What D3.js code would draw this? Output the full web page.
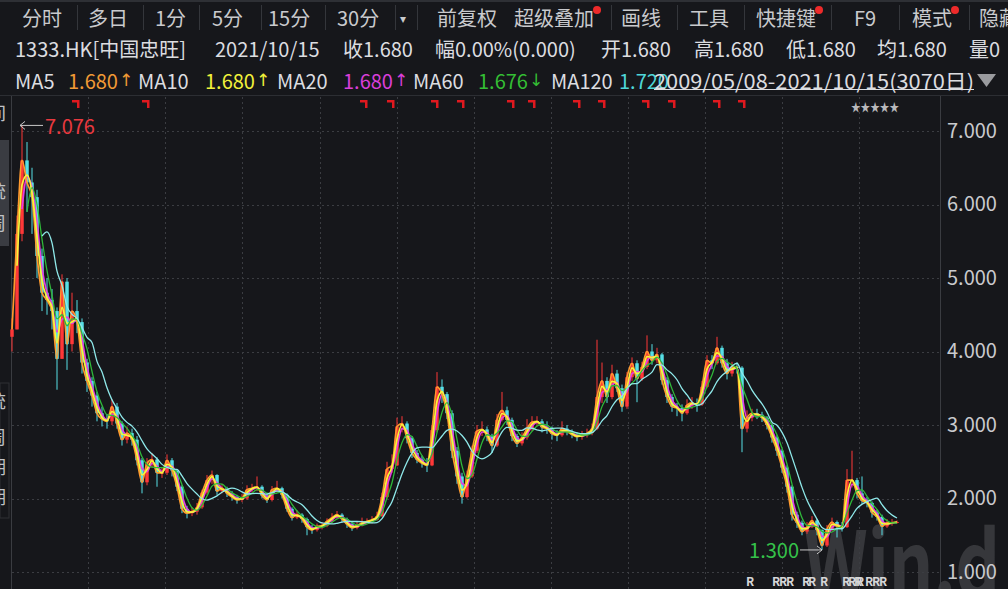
<!DOCTYPE html>
<html><head><meta charset="utf-8">
<script src="https://cdn.jsdelivr.net/npm/d3@7"></script>
<style>
html,body{margin:0;padding:0;background:#16171b;overflow:hidden}
svg{display:block}
text{font-family:"Noto Sans CJK SC","Noto Sans",sans-serif}
</style></head><body>
<svg id="c" width="1008" height="589"></svg>
<script>
// ---- data (sampled every ~17 trading days, 2009/05/08 - 2021/10/15) ----
const closes = [4.3,5.6,6.6,6.3,6.1,5.3,4.8,4.7,4.55,3.9,
4.95,4.1,4.55,4.4,3.85,3.6,3.4,3.16,3.08,3.05,
3.25,3.02,2.8,2.89,2.8,2.52,2.22,2.48,2.53,2.35,
2.35,2.52,2.38,2.16,1.86,1.8,1.82,1.88,2.08,2.25,
2.32,2.1,2.14,2.07,2.02,1.98,2.0,2.12,2.14,2.16,
2.04,1.98,2.12,2.14,2.05,1.86,1.74,1.78,1.72,1.61,
1.57,1.62,1.63,1.69,1.74,1.78,1.72,1.65,1.6,1.63,
1.67,1.69,1.71,1.76,2.02,2.4,2.45,2.98,3.02,2.82,
2.62,2.53,2.48,2.45,2.93,3.52,3.42,3.16,2.65,2.3,
2.02,2.3,2.65,2.92,2.94,2.85,2.72,3.07,3.2,3.07,
2.85,2.75,2.83,2.95,3.04,3.05,2.97,2.95,2.88,2.86,
2.95,2.91,2.87,2.84,2.86,2.89,2.95,3.38,3.6,3.38,
3.7,3.5,3.25,3.65,3.84,3.63,3.79,4.0,3.88,3.96,
3.61,3.38,3.25,3.23,3.16,3.27,3.3,3.28,3.52,3.88,
3.84,4.05,3.84,3.7,3.79,3.78,2.95,3.1,3.16,3.14,
3.1,3.0,2.83,2.65,2.42,2.16,1.78,1.67,1.55,1.61,
1.7,1.57,1.36,1.58,1.68,1.62,1.61,2.25,2.25,2.07,
1.97,1.94,1.81,1.75,1.62,1.67,1.67,1.68];
const highs = [4.45,5.85,7.076,6.85,6.5,6.2,5.4,5.0,4.85,4.6,
5.05,5.0,4.8,4.7,4.45,3.9,3.65,3.45,3.25,3.15,
3.35,3.3,3.05,2.98,2.95,2.85,2.55,2.55,2.62,2.56,
2.42,2.6,2.55,2.4,2.18,1.9,1.88,1.94,2.12,2.32,
2.38,2.33,2.2,2.16,2.1,2.05,2.06,2.18,2.2,2.3,
2.18,2.06,2.17,2.24,2.16,2.07,1.88,1.84,1.8,1.74,
1.64,1.66,1.68,1.73,1.8,1.83,1.8,1.74,1.67,1.68,
1.74,1.73,1.76,1.82,2.08,2.5,2.6,3.1,3.12,3.05,
2.85,2.66,2.58,2.55,3.0,3.72,3.62,3.45,3.2,2.7,
2.35,2.38,2.72,3.0,3.05,2.98,2.88,3.15,3.45,3.25,
3.1,2.88,2.9,3.08,3.12,3.12,3.08,3.05,2.98,2.93,
3.05,3.0,2.94,2.9,2.92,2.95,3.02,4.16,3.85,3.65,
3.82,3.75,3.55,3.72,3.92,3.88,3.86,4.22,4.1,4.05,
3.98,3.65,3.42,3.3,3.28,3.35,3.38,3.36,3.6,3.95,
3.95,4.2,4.08,3.9,3.86,3.85,3.8,3.2,3.22,3.22,
3.18,3.12,3.02,2.86,2.67,2.45,2.18,1.82,1.7,1.68,
1.76,1.72,1.58,1.64,1.74,1.7,1.68,2.4,2.65,2.28,
2.3,2.02,1.96,1.85,1.78,1.72,1.72,1.7];
const lows = [4.0,4.3,5.5,5.9,5.6,5.0,4.55,4.5,4.3,3.48,
3.9,3.75,4.0,4.25,3.7,3.45,3.25,3.05,2.98,2.95,
3.0,2.95,2.72,2.75,2.72,2.45,2.07,2.18,2.42,2.16,
2.28,2.32,2.3,2.1,1.8,1.73,1.76,1.78,1.86,2.05,
2.2,2.05,2.07,2.02,1.97,1.93,1.95,1.98,2.08,2.1,
2.0,1.94,1.96,2.08,2.0,1.82,1.7,1.72,1.67,1.5,
1.52,1.55,1.58,1.61,1.67,1.72,1.68,1.6,1.56,1.58,
1.62,1.65,1.66,1.7,1.75,2.0,2.35,2.44,2.9,2.75,
2.55,2.48,2.42,2.36,2.44,2.9,3.3,3.08,2.55,2.2,
1.93,2.0,2.28,2.62,2.85,2.78,2.62,2.7,3.05,3.0,
2.78,2.7,2.72,2.8,2.92,2.98,2.9,2.88,2.8,2.78,
2.84,2.86,2.82,2.78,2.8,2.83,2.86,2.93,3.3,3.3,
3.35,3.45,3.18,3.22,3.6,3.31,3.6,3.76,3.82,3.84,
3.55,3.3,3.18,3.12,3.05,3.14,3.22,3.18,3.26,3.5,
3.76,3.82,3.78,3.62,3.66,3.7,2.63,2.9,3.05,3.08,
3.04,2.94,2.76,2.58,2.35,2.08,1.7,1.6,1.5,1.52,
1.6,1.5,1.3,1.34,1.56,1.47,1.55,1.6,2.15,2.0,
1.92,1.88,1.74,1.7,1.5,1.6,1.63,1.66];
const yTicks = [1,2,3,4,5,6,7];
const gridIdx = [15.2,30.6,46.0,61.5,76.9,92.3,107.7,123.1,138.6,154.0,169.4];
const flagIdx = [13,27,70.6,76,84.8,90,100,104.2,113.2,118.2,127,132.2,141.2,146.2];
const rIdx = [147.6,152.8,154.2,155.6,158.8,160.0,162.4,166.8,168.0,169.2,169.6,171.4,172.8,174.2];
const maNames = ["MA5","MA10","MA20","MA60","MA120"];
const maLastVal = ["1.680","1.680","1.680","1.676","1.720"];
const maLastDir = ["↑","↑","↑","↓",""];
const maWin = [1,1.5,2.2,3.5,7];
const toolbar = ["分时","多日","1分","5分","15分","30分","▾","前复权","超级叠加","画线","工具","快捷键","F9","模式","隐藏"];
const toolbarX = [22,88,155,212,268,337,400,437,514,621,689,756,854,912,979];
const toolbarDot = [false,false,false,false,false,false,false,false,true,false,false,true,false,true,false];
const toolbarSep = [77,143,199,261,325,395,417,611,677,744,831,899,969];
const infoLabels = ["1333.HK[中国忠旺]","2021/10/15","收1.680","幅0.00%(0.000)","开1.680","高1.680","低1.680","均1.680","量0"];
const infoX = [15,215,343,435,601,694,786,877,969];
const rangeLabel = "2009/05/08-2021/10/15(3070日)";

// ---- drawing ----
const svg = d3.select("#c");
const W = 1008, H = 589;
const bg = "#16171b";
svg.append("rect").attr("width",W).attr("height",H).attr("fill",bg);

const x = d3.scaleLinear().domain([0, closes.length-1]).range([12, 897]);
const y = d3.scaleLinear().domain([1,7]).range([572,131]);

// watermark
svg.append("text").attr("x",804).attr("y",597).text("Win.d")
  .attr("font-family","DejaVu Sans").attr("font-weight","bold").attr("font-size",90)
  .attr("fill","#ffffff").attr("fill-opacity",0.14).attr("textLength",196).attr("lengthAdjust","spacingAndGlyphs");

// grid
const grid = svg.append("g").attr("stroke","#3b3d42").attr("stroke-dasharray","2,3").attr("stroke-width",1);
yTicks.forEach(t=>grid.append("line").attr("x1",12).attr("x2",940).attr("y1",Math.round(y(t))+0.5).attr("y2",Math.round(y(t))+0.5));
gridIdx.forEach(g=>grid.append("line").attr("x1",Math.round(x(g))+0.5).attr("x2",Math.round(x(g))+0.5).attr("y1",97).attr("y2",H));

// frame lines
svg.append("line").attr("x1",940.5).attr("x2",940.5).attr("y1",95).attr("y2",H).attr("stroke","#3a3c41");
svg.append("line").attr("x1",11.5).attr("x2",11.5).attr("y1",95).attr("y2",H).attr("stroke","#3a3c41");
svg.append("line").attr("x1",0).attr("x2",W).attr("y1",95.5).attr("y2",95.5).attr("stroke","#2c2e33");
svg.append("rect").attr("x",0).attr("y",0).attr("width",W).attr("height",2).attr("fill","#2e3035");

// left side tabs (cut off)
svg.append("rect").attr("x",0).attr("y",140).attr("width",9).attr("height",106).attr("fill","#3a3c42");
svg.append("rect").attr("x",0).attr("y",383).attr("width",9).attr("height",135).attr("fill","none").attr("stroke","#2e3035");
const leftChars = [["间",112],["统",190],["周",222],["统",400],["周",436],["期",466],["期",496],["<",545],["<",575]];
leftChars.forEach(([c,yy])=>svg.append("text").attr("x",-12).attr("y",yy).attr("dominant-baseline","central")
  .attr("font-size",18).attr("fill","#bfc1c5").text(c));

// candles
const candles = svg.append("g");
closes.forEach((c,i)=>{
  const o = i===0 ? c - 0.1 : closes[i-1];
  const up = c >= o;
  const col = up ? "#ff3838" : "#57e0e6";
  const cx = x(i);
  candles.append("line").attr("x1",cx).attr("x2",cx).attr("y1",y(highs[i])).attr("y2",y(lows[i]))
    .attr("stroke",col).attr("stroke-width",1);
  candles.append("rect").attr("x",cx-1.75).attr("width",3.5)
    .attr("y",y(Math.max(o,c))).attr("height",Math.max(1,Math.abs(y(o)-y(c)))).attr("fill",col);
});

// moving averages
function ma(vals, w){
  const full = Math.floor(w), frac = w - full;
  return vals.map((v,i)=>{
    if (i < Math.ceil(w)-1) return null;
    let s=0, wt=0;
    for (let k=0;k<full;k++){ s+=vals[i-k]; wt+=1; }
    if (frac>0 && i-full>=0){ s+=vals[i-full]*frac; wt+=frac; }
    return s/wt;
  });
}
const maCols = ["#ff9a2e","#f6f63c","#e23ee2","#2fb83a","#8fe9ea"];
const maDraw = [2,0,1,3,4];
const line = d3.line().defined(d=>d[1]!==null).x(d=>x(d[0])).y(d=>y(d[1])).curve(d3.curveMonotoneX);
maDraw.forEach(k=>{
  const vals = ma(closes, maWin[k]).map((v,i)=>[i,v]);
  svg.append("path").attr("d",line(vals)).attr("fill","none").attr("stroke",maCols[k])
    .attr("stroke-width", k<3 ? 1.7 : 1.3);
});

// max / min annotations
const iMax = d3.maxIndex(highs), iMin = d3.minIndex(lows);
const ym = y(highs[iMax]);
const tipX = x(iMax)-2;
const ann = svg.append("g").attr("stroke","#c8c8c8").attr("stroke-width",1).attr("fill","none");
ann.append("path").attr("d",`M${tipX+23},${ym}H${tipX}M${tipX+5},${ym-4}L${tipX},${ym}L${tipX+5},${ym+4}`);
svg.append("text").attr("x",tipX+25).attr("y",ym).attr("dominant-baseline","central")
  .attr("font-size",20).attr("fill","#e8393f").text(d3.format(".3f")(highs[iMax]));
const yl = y(lows[iMin]);
const tip2 = x(iMin);
ann.append("path").attr("d",`M${tip2-22},${yl}H${tip2}M${tip2-5},${yl-4}L${tip2},${yl}L${tip2-5},${yl+4}`);
svg.append("text").attr("x",tip2-23).attr("y",yl).attr("text-anchor","end").attr("dominant-baseline","central")
  .attr("font-size",20).attr("fill","#35c24a").text(d3.format(".3f")(lows[iMin]));

// y axis
const ax = svg.append("g").attr("transform","translate(944,0)")
  .call(d3.axisRight(y).tickValues(yTicks).tickFormat(d3.format(".3f")).tickSize(0).tickPadding(3));
ax.select(".domain").remove();
ax.selectAll("text").attr("font-size",20).attr("fill","#c9cacd").attr("font-family","\"Noto Sans CJK SC\",sans-serif");

// flags
const fl = svg.append("g").attr("fill","#e0191f");
flagIdx.forEach(f=>{
  const fx = Math.round(x(f));
  fl.append("rect").attr("x",fx-5).attr("y",100).attr("width",7).attr("height",2.5);
  fl.append("rect").attr("x",fx).attr("y",100).attr("width",2.5).attr("height",8);
});
svg.append("text").attr("x",851).attr("y",106).attr("dominant-baseline","central").attr("font-size",12)
  .attr("font-family","DejaVu Sans").attr("fill","#b8b8bb").attr("textLength",48).attr("lengthAdjust","spacingAndGlyphs").text("★★★★★");

// R markers
rIdx.forEach(r=>svg.append("text").attr("x",x(r)).attr("y",580).attr("text-anchor","middle").attr("dominant-baseline","central")
  .attr("font-size",12).attr("font-weight","bold").attr("fill","#d6d6d8").attr("font-family","DejaVu Sans Condensed, sans-serif").text("R"));

// toolbar
toolbar.forEach((t,i)=>{
  svg.append("text").attr("x",toolbarX[i]).attr("y",17).attr("dominant-baseline","central")
    .attr("font-size", t==="▾"?12:20).attr("fill","#c9cacd").text(t);
});
toolbarSep.forEach(s=>svg.append("line").attr("x1",s+0.5).attr("x2",s+0.5).attr("y1",5).attr("y2",30).attr("stroke","#34363b"));
toolbar.forEach((t,i)=>{ if(toolbarDot[i]){
  const bb = svg.selectAll("text").filter(function(){return this.textContent===t;}).node().getBBox();
  svg.append("circle").attr("cx",bb.x+bb.width+3).attr("cy",10).attr("r",4).attr("fill","#ee2a2a");
}});

// info row
infoLabels.forEach((t,i)=>svg.append("text").attr("x",infoX[i]).attr("y",48).attr("dominant-baseline","central")
  .attr("font-size",20).attr("fill","#dcdde0").text(t));

// MA legend row
const legX = [15,138,277,413,551];
const valX = [68,205,343,478,619];
const legCols = ["#f19a35","#f1f13a","#d93fd9","#34be34","#4fd6d8"];
maNames.forEach((n,i)=>{
  svg.append("text").attr("x",legX[i]).attr("y",80).attr("dominant-baseline","central").attr("font-size",20).attr("fill","#dcdde0").text(n);
  const t = svg.append("text").attr("x",valX[i]).attr("y",80).attr("dominant-baseline","central").attr("font-size",20).attr("fill",legCols[i]);
  t.append("tspan").text(maLastVal[i]);
  if (maLastDir[i]) t.append("tspan").attr("font-family","DejaVu Sans").attr("font-size",17).attr("dx",1).text(maLastDir[i]);
});
svg.append("text").attr("x",654).attr("y",80).attr("dominant-baseline","central").attr("font-size",20)
  .attr("fill","#dcdde0").attr("textLength",320).attr("lengthAdjust","spacingAndGlyphs").text(rangeLabel);
svg.append("line").attr("x1",654).attr("x2",974).attr("y1",89.5).attr("y2",89.5).attr("stroke","#dcdde0");
svg.append("path").attr("d","M977,74H996L986.5,87Z").attr("fill","#9a9b9f");
</script>
</body></html>
